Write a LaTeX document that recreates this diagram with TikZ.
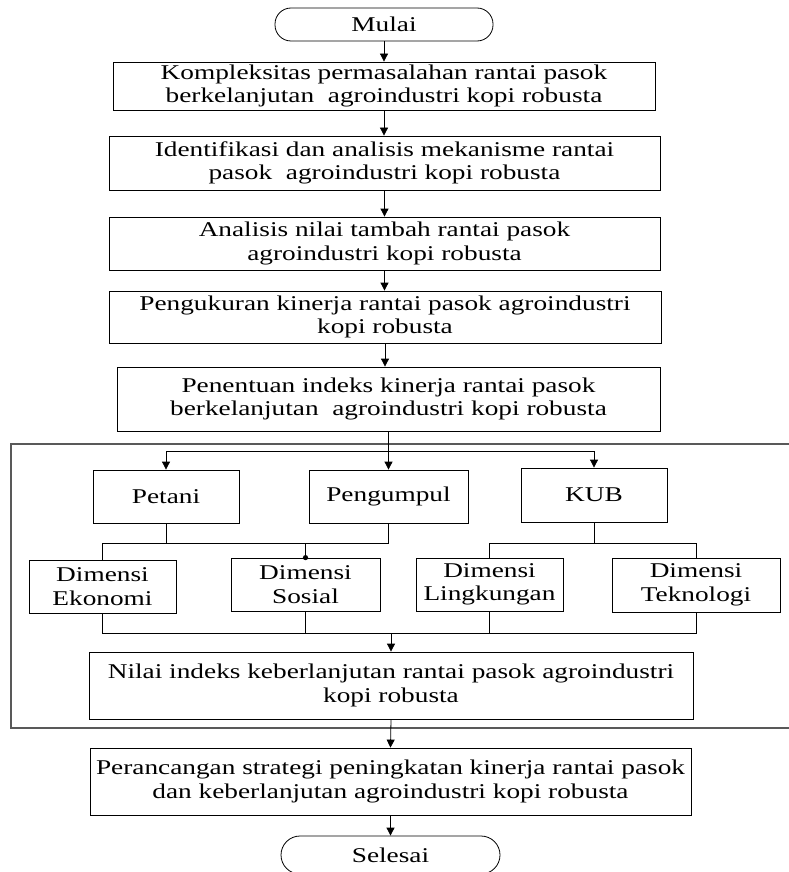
\documentclass[tikz,border=0pt]{standalone}
\usepackage{fontspec}
\setmainfont{Liberation Serif}[FakeStretch=1.3]
\usetikzlibrary{arrows.meta}
\begin{document}
\begin{tikzpicture}[x=1pt,y=-1pt,
  font=\fontsize{21}{23.5}\selectfont,
  box/.style={draw, line width=0.8pt, align=center, inner sep=0pt},
  term/.style={draw, line width=0.8pt, align=center, inner sep=0pt, rounded corners=#1},
  ln/.style={line width=0.8pt},
  arr/.style={line width=0.8pt, -{Triangle[length=8pt,width=8pt]}},
  cont/.style={line width=1.1pt, black!65}]
\useasboundingbox (0,0) rectangle (788,872);

\node[term=16pt, minimum width=218pt, minimum height=33pt] (start) at (384,24.5) {Mulai};
\node[box, minimum width=542pt, minimum height=48pt] (b1) at (384,86) {Kompleksitas permasalahan rantai pasok\\berkelanjutan\ \ agroindustri kopi robusta};
\node[box, minimum width=551pt, minimum height=54pt] (b2) at (384.5,163) {Identifikasi dan analisis mekanisme rantai\\pasok\ \ agroindustri kopi robusta};
\node[box, minimum width=551pt, minimum height=53pt] (b3) at (384.5,243.5) {Analisis nilai tambah rantai pasok\\agroindustri kopi robusta};
\node[box, minimum width=552pt, minimum height=52pt] (b4) at (385,317) {Pengukuran kinerja rantai pasok agroindustri\\kopi robusta};
\node[box, minimum width=543pt, minimum height=64pt] (b5) at (388.5,399) {Penentuan indeks kinerja rantai pasok\\berkelanjutan\ \ agroindustri kopi robusta};

\draw[cont] (792,444) -- (11,444) -- (11,728) -- (792,728);

\node[box, minimum width=146pt, minimum height=53pt] (pet) at (166,496.5) {Petani};
\node[box, minimum width=159pt, minimum height=53pt] (peng) at (388.5,496.5) {Pengumpul};
\node[box, minimum width=146pt, minimum height=54pt] (kub) at (594,495) {KUB};

\node[box, minimum width=147pt, minimum height=53pt] (eko) at (102.5,586.5) {Dimensi\\Ekonomi};
\node[box, minimum width=149pt, minimum height=53pt] (sos) at (305.5,584.5) {Dimensi\\Sosial};
\node[box, minimum width=147pt, minimum height=53pt] (lin) at (489.5,584.5) {Dimensi\\Lingkungan};
\node[box, minimum width=168pt, minimum height=54pt] (tek) at (696,585) {Dimensi\\Teknologi};

\node[box, minimum width=604pt, minimum height=67pt] (nil) at (391,685.5) {Nilai indeks keberlanjutan rantai pasok agroindustri\\kopi robusta};
\node[box, minimum width=601pt, minimum height=67pt] (per) at (390.5,781.5) {Perancangan strategi peningkatan kinerja rantai pasok\\dan keberlanjutan agroindustri kopi robusta};
\node[term=19pt, minimum width=219pt, minimum height=38pt] (fin) at (390.5,855) {Selesai};

\draw[arr] (start) -- (b1);
\draw[arr] (b1.south) -- (b1.south |- b2.north);
\draw[arr] (b2.south) -- (b2.south |- b3.north);
\draw[arr] (b3.south) -- (b3.south |- b4.north);
\draw[arr] (b4.south) -- (b4.south |- b5.north);
\draw[arr] (b5.south) -- (peng.north);

\coordinate (dl) at (166,451);
\coordinate (dr) at (594,451);
\draw[ln] (dl) -- (dr);
\draw[arr] (dl) -- (pet.north);
\draw[arr] (dr) -- (kub.north);

\coordinate (h1l) at (102.5,543);
\coordinate (h1r) at (388.5,543);
\draw[ln] (h1l) -- (h1r);
\draw[ln] (pet.south) -- (pet.south |- h1l);
\draw[ln] (peng.south) -- (h1r);
\draw[ln] (h1l) -- (eko.north);
\draw[ln] (sos.north |- h1l) -- (sos.north);
\fill (sos.north) circle (2.6pt);

\coordinate (h2l) at (489.5,543);
\coordinate (h2r) at (696,543);
\draw[ln] (h2l) -- (h2r);
\draw[ln] (kub.south) -- (kub.south |- h2l);
\draw[ln] (h2l) -- (lin.north);
\draw[ln] (h2r) -- (tek.north);

\coordinate (h3l) at (102.5,633);
\coordinate (h3r) at (696,633);
\coordinate (h3m) at (391,633);
\draw[ln] (eko.south) -- (h3l) -- (h3r) -- (tek.south);
\draw[ln] (sos.south) -- (sos.south |- h3l);
\draw[ln] (lin.south) -- (lin.south |- h3l);
\draw[arr] (h3m) -- (nil.north);
\draw[arr] (nil.south) -- (per.north);
\draw[arr] (per.south) -- (fin.north);
\end{tikzpicture}
\end{document}
